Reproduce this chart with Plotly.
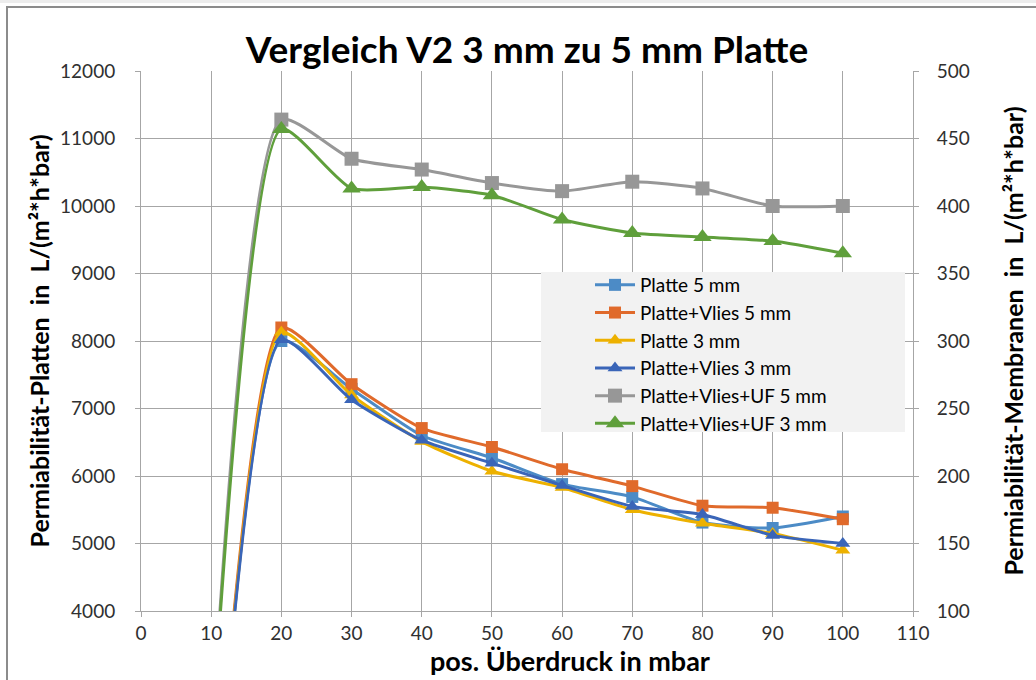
import plotly.graph_objects as go

# Pressure steps (mbar); the 10 mbar start value is 0 for every series
pressure = [10, 20, 30, 40, 50, 60, 70, 80, 90, 100]

# Plates (primary axis, L/(m²*h*bar))
platte_5 = [0, 8000, 7290, 6600, 6270, 5880, 5690, 5310, 5230, 5400]
platte_vlies_5 = [0, 8200, 7360, 6710, 6430, 6100, 5850, 5560, 5530, 5360]
platte_3 = [0, 8130, 7200, 6510, 6070, 5830, 5500, 5300, 5150, 4900]
platte_vlies_3 = [0, 8020, 7130, 6530, 6190, 5860, 5550, 5430, 5120, 5000]

# Membranes (secondary axis, L/(m²*h*bar))
platte_vlies_uf_5 = [0, 464, 435, 427, 417, 411, 418, 413, 400, 400]
platte_vlies_uf_3 = [0, 457, 413, 414, 408, 390, 380, 377, 374, 365]

names = ["Platte 5 mm", "Platte+Vlies 5 mm", "Platte 3 mm", "Platte+Vlies 3 mm",
         "Platte+Vlies+UF 5 mm", "Platte+Vlies+UF 3 mm"]
colors = ["#4C8BC6", "#E06A2B", "#EDB100", "#3A65B8", "#979797", "#5F9F3B"]
symbols = ["square", "square", "triangle-up", "triangle-up", "square", "triangle-up"]
sizes = [12, 12, 13, 13, 14, 16]
series = [platte_5, platte_vlies_5, platte_3, platte_vlies_3, platte_vlies_uf_5, platte_vlies_uf_3]
axes = ["y", "y", "y", "y", "y2", "y2"]

fig = go.Figure()
for name, col, sym, sz, vals, ax in zip(names, colors, symbols, sizes, series, axes):
    fig.add_trace(go.Scatter(
        x=pressure, y=vals, name=name, yaxis=ax, mode="lines+markers",
        line=dict(color=col, width=3, shape="spline", smoothing=0.6),
        marker=dict(symbol=sym, size=sz, color=col),
    ))

font_family = "Lato, Roboto, Liberation Sans, Arial"
grid = "#A6A6A6"
tick_col = "#303030"

# plot area in pixels
L, R, T, B = 141, 913, 71, 611
W, H = 1036, 680
pw, ph = R - L, B - T

def px(x):
    return (x - L) / pw

def py(y):
    return 1 - (y - T) / ph

fig.update_layout(
    width=W, height=H,
    paper_bgcolor="white", plot_bgcolor="white",
    margin=dict(l=L, r=W - R, t=T, b=H - B),
    title=dict(text="<b>Vergleich V2 3 mm zu 5 mm Platte</b>", x=0.5, xanchor="center",
               xref="paper", y=1 - 50 / H, yanchor="middle",
               font=dict(family=font_family, size=37, color="black")),
    font=dict(family=font_family, size=19, color=tick_col),
    xaxis=dict(
        range=[0, 110], dtick=10, tick0=0, showgrid=True, gridcolor=grid, gridwidth=1,
        showline=True, linecolor=grid, linewidth=1, ticks="outside", ticklen=5,
        tickcolor=grid, zeroline=False,
        tickfont=dict(size=19, color=tick_col),
    ),
    yaxis=dict(
        range=[4000, 12000], dtick=1000, tickformat="d", showgrid=True, gridcolor=grid,
        gridwidth=1, showline=True, linecolor=grid, linewidth=1, ticks="outside",
        ticklen=5, tickcolor=grid, zeroline=False, ticklabelstandoff=16,
        tickfont=dict(size=19, color=tick_col),
        title=dict(text="<b>Permiabilität-Platten  in  L/(m²*h*bar)</b>", standoff=3,
                   font=dict(size=25, color="black")),
    ),
    yaxis2=dict(
        range=[100, 500], dtick=50, overlaying="y", side="right", showgrid=False,
        showline=True, linecolor=grid, linewidth=1, ticks="outside", ticklen=5,
        tickcolor=grid, zeroline=False, ticklabelstandoff=14,
        tickfont=dict(size=19, color=tick_col),
        title=dict(text="<b>Permiabilität-Membranen  in  L/(m²*h*bar)</b>", standoff=36,
                   font=dict(size=25, color="black")),
    ),
    legend=dict(
        x=px(590), y=py(266), xanchor="left", yanchor="top",
        bgcolor="rgba(0,0,0,0)", borderwidth=0,
        font=dict(size=19, color="black"),
        tracegroupgap=0, itemwidth=40,
    ),
    showlegend=True,
)

# x-axis title, placed right of centre
fig.add_annotation(text="<b>pos. Überdruck in mbar</b>", xref="paper", yref="paper",
                   x=px(570), y=py(660), xanchor="center", yanchor="middle",
                   showarrow=False, font=dict(family=font_family, size=27, color="black"))

# Legend panel
fig.add_shape(type="rect", xref="paper", yref="paper",
              x0=px(541), x1=px(905), y0=py(432), y1=py(272),
              fillcolor="#F2F2F2", line=dict(width=0), layer="above")

# Chart frame and the thin grey strip above it
fig.add_shape(type="rect", xref="paper", yref="paper",
              x0=px(0), x1=px(W), y0=py(0), y1=py(3),
              fillcolor="#EDEDED", line=dict(width=0), layer="below")
fig.add_shape(type="rect", xref="paper", yref="paper",
              x0=px(7), x1=px(W + 10), y0=py(H + 10), y1=py(7),
              line=dict(color="#8C8C8C", width=2), fillcolor="rgba(0,0,0,0)", layer="above")

fig.write_html("out.html")
